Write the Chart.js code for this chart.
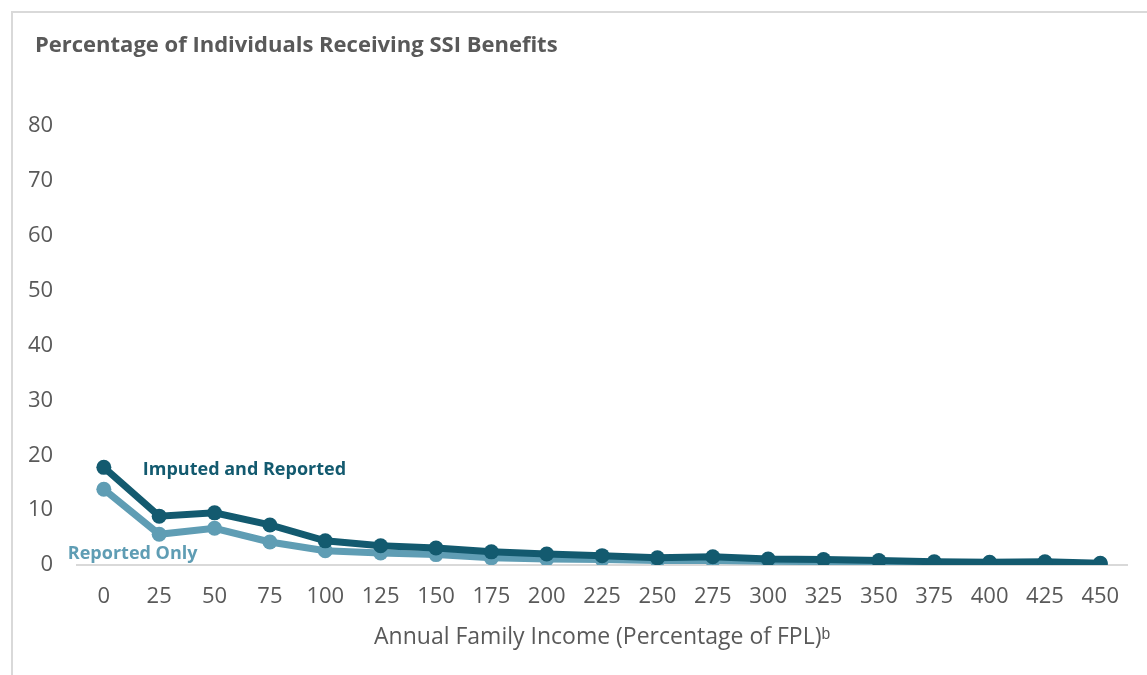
<!DOCTYPE html>
<html>
<head>
<meta charset="utf-8">
<script src="https://cdn.jsdelivr.net/npm/chart.js@4"></script>
<style>
  html, body { margin: 0; padding: 0; background: #fff; }
  #wrap { position: relative; width: 1147px; height: 675px; }
  #frame {
    position: absolute; left: 11px; top: 11px; right: 0; bottom: 0;
    border-left: 2px solid #d9d9d9; border-top: 2px solid #d9d9d9;
    pointer-events: none;
  }
</style>
</head>
<body>
<div id="wrap">
  <canvas id="ssi-chart" width="1147" height="675"></canvas>
  <div id="frame"></div>
</div>
<script>
// FPL bands (percent of federal poverty level)
const incomeLabels = ['0', '25', '50', '75', '100', '125', '150', '175', '200', '225',
  '250', '275', '300', '325', '350', '375', '400', '425', '450'];
// Share of individuals receiving SSI, percent
const imputedReported = [17.8, 8.9, 9.5, 7.3, 4.4, 3.5, 3.1, 2.4, 2.0, 1.7,
  1.3, 1.5, 1.1, 1.0, 0.8, 0.6, 0.5, 0.6, 0.3];
const reportedOnly = [13.8, 5.6, 6.7, 4.2, 2.6, 2.2, 1.9, 1.3, 1.1, 1.0,
  0.8, 0.8, 0.7, 0.6, 0.4, 0.3, 0.3, 0.4, 0.2];
const yTicks = [0, 10, 20, 30, 40, 50, 60, 70, 80];

const darkTeal = '#135a6f';
const lightTeal = '#5f9db4';
const textGray = '#595959';
const fontFamily = "'Open Sans', sans-serif";

// Title plus the two series captions placed next to their lines
const captionPlugin = {
  id: 'captions',
  afterDraw(chart) {
    const ctx = chart.ctx;
    const x = chart.scales.x;
    const y = chart.scales.y;
    ctx.save();
    ctx.textBaseline = 'middle';
    ctx.textAlign = 'left';

    ctx.fillStyle = textGray;
    ctx.font = 'bold 22px ' + fontFamily;
    ctx.fillText('Percentage of Individuals Receiving SSI Benefits', 35, 46);

    ctx.font = 'bold 18px ' + fontFamily;
    ctx.fillStyle = darkTeal;
    ctx.fillText('Imputed and Reported', x.getPixelForValue(0) + 39, y.getPixelForValue(17.4));
    ctx.fillStyle = lightTeal;
    ctx.fillText('Reported Only', x.getPixelForValue(0) - 36, y.getPixelForValue(2.1));
    ctx.restore();
  }
};

new Chart(document.getElementById('ssi-chart'), {
  type: 'line',
  data: {
    labels: incomeLabels,
    datasets: [{
      label: 'Imputed and Reported',
      data: imputedReported,
      borderColor: darkTeal,
      backgroundColor: darkTeal,
      borderWidth: 7,
      pointRadius: 7.5,
      pointHoverRadius: 7.5,
      pointBorderWidth: 0,
      order: 0
    }, {
      label: 'Reported Only',
      data: reportedOnly,
      borderColor: lightTeal,
      backgroundColor: lightTeal,
      borderWidth: 7,
      pointRadius: 7.5,
      pointHoverRadius: 7.5,
      pointBorderWidth: 0,
      order: 1
    }]
  },
  options: {
    responsive: false,
    animation: false,
    layout: { padding: { top: 126, left: 5, right: 19, bottom: 24 } },
    scales: {
      x: {
        offset: true,
        grid: { display: false },
        border: { display: false },
        ticks: { color: textGray, font: { family: fontFamily, size: 22 }, padding: 11, maxRotation: 0 },
        title: {
          display: true,
          text: 'Annual Family Income (Percentage of FPL)ᵇ',
          color: textGray,
          font: { family: fontFamily, size: 23 },
          padding: { top: 2, bottom: 0 }
        }
      },
      y: {
        min: 0,
        max: 80,
        afterBuildTicks(axis) { axis.ticks = yTicks.map(v => ({ value: v })); },
        grid: {
          drawTicks: false,
          lineWidth: ctx => ctx.tick && ctx.tick.value === 0 ? 2 : 0,
          color: '#d9d9d9'
        },
        border: { display: false },
        ticks: { color: textGray, font: { family: fontFamily, size: 22 }, padding: 23 }
      }
    },
    plugins: {
      legend: { display: false },
      tooltip: { enabled: false }
    }
  },
  plugins: [captionPlugin]
});
</script>
</body>
</html>
